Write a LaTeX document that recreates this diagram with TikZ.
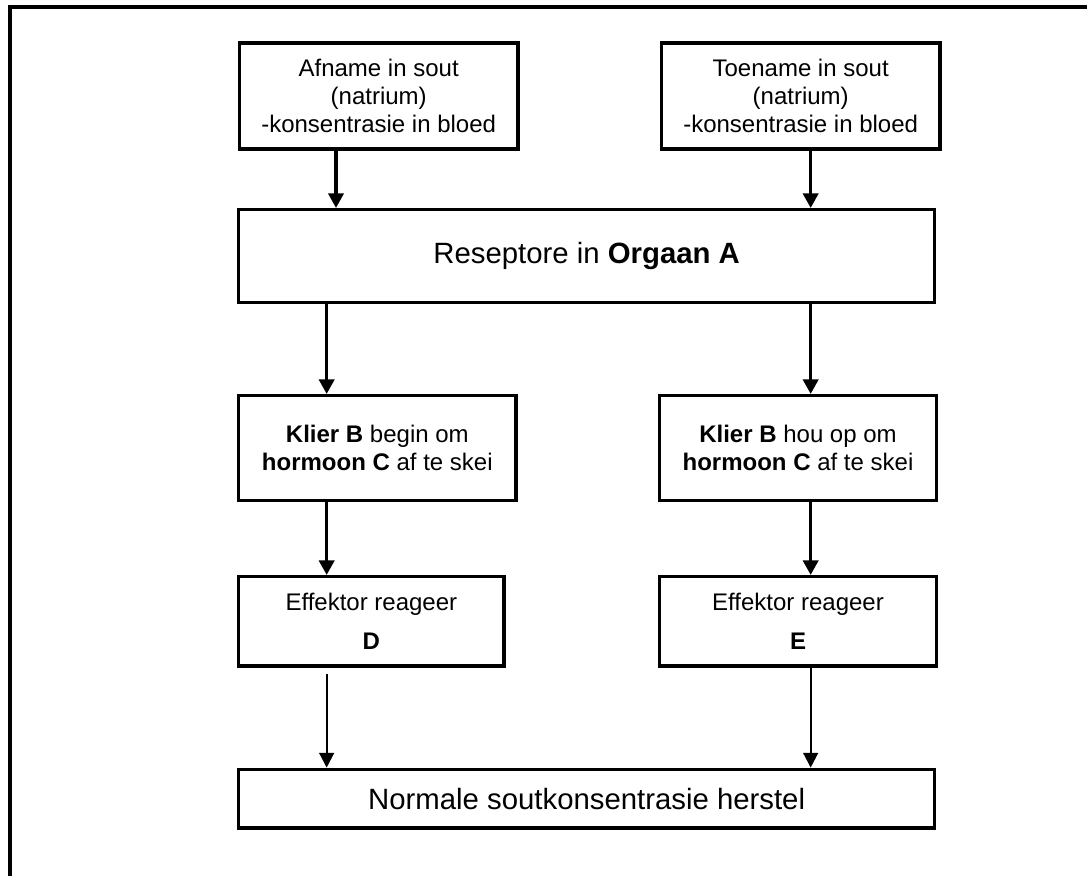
\documentclass[tikz,border=0pt]{standalone}
\usepackage{fontspec}
\setmainfont{Liberation Sans}
\usetikzlibrary{arrows.meta}
\usetikzlibrary{positioning}

\begin{document}
\begin{tikzpicture}[
  node distance=120pt,
  boxtext/.style={font=\fontsize{18}{21}\selectfont},
  bigtext/.style={font=\fontsize{22}{26}\selectfont}
]
	\tikzstyle{changeBox} = [rectangle, minimum width=209pt, minimum height=79.5pt, align=center, draw=black, line width=2.6pt, boxtext]
	\tikzstyle{receptorBox} = [rectangle, minimum width=522pt, minimum height=69.5pt, align=center, draw=black, line width=2.6pt, bigtext]
	\tikzstyle{glandBox} = [rectangle, minimum width=207.5pt, minimum height=78.5pt, align=center, draw=black, line width=2.6pt, boxtext]
	\tikzstyle{effectorBox} = [rectangle, minimum width=207.5pt, minimum height=67pt, align=center, draw=black, line width=2.6pt, boxtext]
	\tikzstyle{normalBox} = [rectangle, minimum width=522pt, minimum height=44pt, align=center, draw=black, line width=2.6pt, bigtext]
	\tikzstyle{arrowThick} = [line width=2.4pt, -{Triangle[width=11.5pt,length=11pt]}]
	\tikzstyle{arrowThin} = [line width=1.6pt, -{Triangle[width=11pt,length=11pt]}]

	\useasboundingbox (0,0) rectangle (815.25pt,-657pt);
	\draw[line width=2.4pt] (815.25pt,-5.25pt) -- (7.5pt,-5.25pt) -- (7.5pt,-657pt);

	\node (afname) [changeBox] at (284pt,-72pt) {Afname in sout\\(natrium)\\-konsentrasie in bloed};
	\node (toename) [changeBox, right of=afname, node distance=316.5pt] {Toename in sout\\(natrium)\\-konsentrasie in bloed};

	\node (reseptore) [receptorBox, below of=afname, node distance=120pt, xshift=156pt] {Reseptore in \textbf{Orgaan A}};

	\node (klierL) [glandBox, minimum width=208pt, below of=reseptore, node distance=144pt, xshift=-157pt] {\textbf{Klier B} begin om\\\textbf{hormoon C} af te skei};
	\node (klierR) [glandBox, right of=klierL, node distance=315.5pt] {\textbf{Klier B} hou op om\\\textbf{hormoon C} af te skei};

	\node (effektorL) [effectorBox, minimum width=199pt, below of=klierL, node distance=130pt, xshift=-4.5pt] {Effektor reageer\\[8pt]\textbf{D}};
	\node (effektorR) [effectorBox, below of=klierR, node distance=130pt] {Effektor reageer\\[8pt]\textbf{E}};

	\node (normale) [normalBox, below of=reseptore, node distance=407pt] {Normale soutkonsentrasie herstel};

	% arrow columns
	\coordinate (colA) at (252pt,0);
	\coordinate (colL) at (245pt,0);
	\coordinate (colR) at (608pt,0);

	\draw[arrowThick] (afname.south -| colA) -- (reseptore.north -| colA);
	\draw[arrowThick] (toename.south -| colR) -- (reseptore.north -| colR);
	\draw[arrowThick] (reseptore.south -| colL) -- (klierL.north -| colL);
	\draw[arrowThick] (reseptore.south -| colR) -- (klierR.north -| colR);
	\draw[arrowThick] (klierL.south -| colL) -- (effektorL.north -| colL);
	\draw[arrowThick] (klierR.south -| colR) -- (effektorR.north -| colR);
	\draw[arrowThin] ([yshift=-4.5pt]effektorL.south -| colL) -- (normale.north -| colL);
	\draw[arrowThin] (effektorR.south -| colR) -- (normale.north -| colR);
\end{tikzpicture}
\end{document}
